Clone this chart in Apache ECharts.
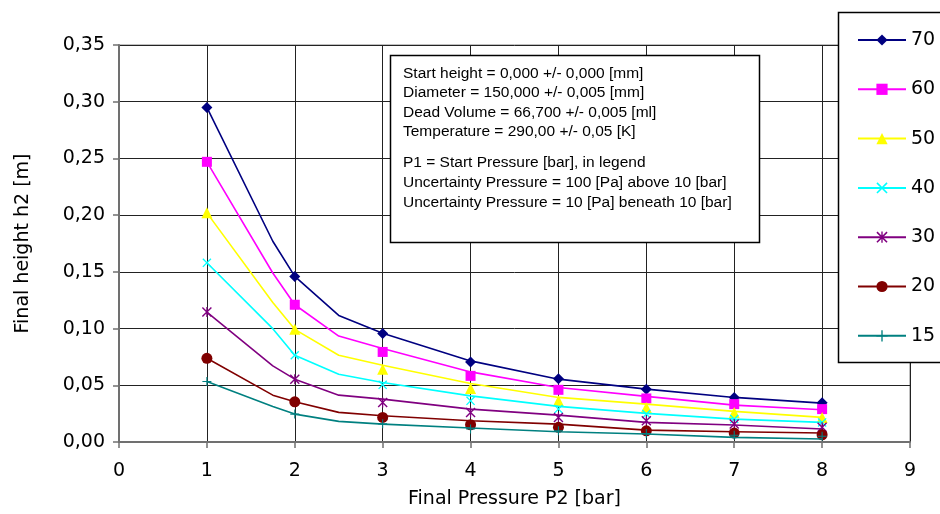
<!DOCTYPE html>
<html>
<head>
<meta charset="utf-8">
<script src="https://cdn.jsdelivr.net/npm/echarts@6/dist/echarts.min.js"></script>
<style>html,body{margin:0;padding:0;background:#fff;}#c{width:940px;height:514px;}</style>
</head>
<body>
<div id="c"></div>
<script>
// Start pressures P1 [bar] (legend)
const seriesNames = ['70', '60', '50', '40', '30', '20', '15'];
// Curve sample positions (Final pressure P2 [bar])
const lineX = [1, 1.75, 2, 2.5, 3, 4, 5, 6, 7, 8];
// Marker positions
const markX = [1, 2, 3, 4, 5, 6, 7, 8];

// Curve values (final height h2 [m])
const line70 = [0.295, 0.177, 0.146, 0.1116, 0.0958, 0.0715, 0.0554, 0.0466, 0.0393, 0.0343];
const line60 = [0.247, 0.149, 0.121, 0.0934, 0.0824, 0.0618, 0.0481, 0.0402, 0.0325, 0.0284];
const line50 = [0.202, 0.123, 0.0993, 0.0765, 0.0677, 0.0516, 0.0393, 0.0334, 0.0270, 0.0217];
const line40 = [0.158, 0.0999, 0.0765, 0.0598, 0.0525, 0.0407, 0.0314, 0.0252, 0.0202, 0.0173];
const line30 = [0.1145, 0.0671, 0.0554, 0.0413, 0.0378, 0.0290, 0.0237, 0.0173, 0.0150, 0.0114];
const line20 = [0.0738, 0.0413, 0.0354, 0.0261, 0.0231, 0.0187, 0.0158, 0.0105, 0.0091, 0.0079];
const line15 = [0.0533, 0.0314, 0.0246, 0.0182, 0.0158, 0.0123, 0.0091, 0.0070, 0.0041, 0.0026];

// Marker values (final height h2 [m])
const mark70 = [0.295, 0.146, 0.0956, 0.0706, 0.0557, 0.0466, 0.0393, 0.0345];
const mark60 = [0.247, 0.121, 0.0794, 0.0583, 0.0460, 0.0384, 0.0334, 0.0290];
const mark50 = [0.202, 0.0993, 0.0642, 0.0472, 0.0363, 0.0305, 0.0261, 0.0215];
const mark40 = [0.158, 0.0765, 0.0504, 0.0363, 0.0290, 0.0246, 0.0202, 0.0173];
const mark30 = [0.1145, 0.0554, 0.0349, 0.0261, 0.0217, 0.0187, 0.0158, 0.0129];
const mark20 = [0.0738, 0.0354, 0.0217, 0.0152, 0.0129, 0.0099, 0.0079, 0.0064];
const mark15 = [0.0533, 0.0246, 0.0160, 0.0114, 0.0099, 0.0075, 0.0060, 0.0050];

const lines = [line70, line60, line50, line40, line30, line20, line15];
const marks = [mark70, mark60, mark50, mark40, mark30, mark20, mark15];

const colors = ['#000080', '#FF00FF', '#FFFF00', '#00FFFF', '#800080', '#800000', '#008080'];
const X_PATH = 'path://M0,1L1,0L10,9L9,10Z M9,0L10,1L1,10L0,9Z';
const STAR_PATH = 'path://M0,1L1,0L10,9L9,10Z M9,0L10,1L1,10L0,9Z M4.4,0H5.6V10H4.4Z';
const PLUS_PATH = 'path://M4.4,0H5.6V10H4.4Z M0,4.4H10V5.6H0Z';
const symbols = ['diamond', 'rect', 'triangle', X_PATH, STAR_PATH, 'circle', PLUS_PATH];
const symSizes = [11, 10, 11, 9, 10, 11, 9];

const FONT = 'DejaVu Sans';
const series = [];
seriesNames.forEach((n, i) => {
  series.push({
    name: n, type: 'line', z: 2 + i * 2,
    data: lineX.map((x, k) => [x, lines[i][k]]),
    symbol: symbols[i], showSymbol: false,
    color: colors[i],
    lineStyle: { color: colors[i], width: 1.6 },
    itemStyle: { color: colors[i] },
    emphasis: { disabled: true }, silent: true, animation: false
  });
  series.push({
    name: n, type: 'scatter', z: 3 + i * 2,
    data: markX.map((x, k) => [x, marks[i][k]]),
    symbol: symbols[i], symbolSize: symSizes[i],
    itemStyle: { color: colors[i], opacity: 1 },
    emphasis: { disabled: true }, silent: true, animation: false
  });
});

const chart = echarts.init(document.getElementById('c'));
chart.setOption({
  animation: false,
  backgroundColor: '#fff',
  grid: { left: 119, right: 30, top: 45, bottom: 71, show: true, borderColor: '#808080', borderWidth: 1 },
  xAxis: {
    type: 'value', min: 0, max: 9, interval: 1,
    name: 'Final Pressure P2 [bar]', nameLocation: 'middle', nameGap: 48,
    nameTextStyle: { fontFamily: FONT, fontSize: 19, color: '#000' },
    axisLine: { show: true, lineStyle: { color: '#707070', width: 2 } },
    axisTick: { show: true, length: 6, lineStyle: { color: '#707070', width: 1.5 } },
    axisLabel: { fontFamily: FONT, fontSize: 19, color: '#000', margin: 20 },
    splitLine: { show: true, lineStyle: { color: '#222', width: 1 } }
  },
  yAxis: {
    type: 'value', min: 0, max: 0.35, interval: 0.05,
    name: 'Final height h2 [m]', nameLocation: 'middle', nameGap: 86,
    nameTextStyle: { fontFamily: FONT, fontSize: 19, color: '#000' },
    axisLine: { show: true, lineStyle: { color: '#707070', width: 2 } },
    axisTick: { show: true, length: 6, lineStyle: { color: '#707070', width: 1.5 } },
    axisLabel: { fontFamily: FONT, fontSize: 19, color: '#000', margin: 14,
      formatter: v => v.toFixed(2).replace('.', ',') },
    splitLine: { show: true, lineStyle: { color: '#222', width: 1 } }
  },
  legend: {
    orient: 'vertical', left: 852, top: 25.5, itemGap: 30.3,
    itemWidth: 48, itemHeight: 14, itemStyle: { borderWidth: 0 },
    textStyle: { fontFamily: FONT, fontSize: 19, color: '#000' },
    data: seriesNames, selectedMode: false, z: 10
  },
  graphic: [
    { type: 'rect', z: 5, shape: { x: 838.5, y: 12.5, width: 120, height: 350 },
      style: { fill: '#fff', stroke: '#000', lineWidth: 1.5 } },
    { type: 'rect', z: 5, shape: { x: 390.5, y: 55.5, width: 369, height: 187 },
      style: { fill: '#fff', stroke: '#000', lineWidth: 1.5 } },
    { type: 'text', z: 6, left: 403, top: 64,
      style: { text: 'Start height = 0,000 +/- 0,000 [mm]\nDiameter = 150,000 +/- 0,005 [mm]\nDead Volume = 66,700 +/- 0,005 [ml]\nTemperature = 290,00 +/- 0,05 [K]',
        font: '15.5px "Liberation Sans"', lineHeight: 19.3, fill: '#000' } },
    { type: 'text', z: 6, left: 403, top: 153,
      style: { text: 'P1 = Start Pressure [bar], in legend\nUncertainty Pressure = 100 [Pa] above 10 [bar]\nUncertainty Pressure = 10 [Pa] beneath 10 [bar]',
        font: '15.5px "Liberation Sans"', lineHeight: 20, fill: '#000' } }
  ],
  series: series
});
</script>
</body>
</html>
